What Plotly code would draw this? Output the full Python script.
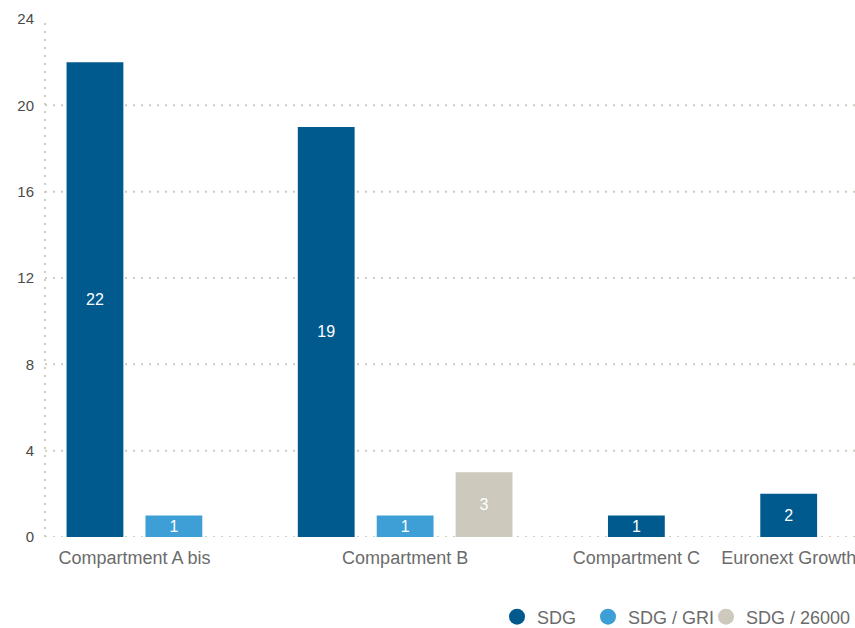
import plotly.graph_objects as go

# ---- data ----
categories = ["Compartment A bis", "Compartment B", "Compartment C", "Euronext Growth"]
series_names = ["SDG", "SDG / GRI", "SDG / 26000"]
sdg = [22, 19, 1, 2]
sdg_gri = [1, 1, None, None]
sdg_26000 = [None, 3, None, None]
y_ticks = [0, 4, 8, 12, 16, 20, 24]
grid_vals = [0, 4, 8, 12, 16, 20]

colors = ["#005a8e", "#3d9fd6", "#cdc9bd"]
grid_color = "#cfccc2"
FONT = "Liberation Sans"
legend_left_px = [497, 588, 706]  # legend entry placement (layout)

# ---- layout of bar slots (only non-empty series get a slot) ----
GROUP_GAP = 0.93
all_series = [sdg, sdg_gri, sdg_26000]
positions = {i: ([], []) for i in range(len(all_series))}
tick_pos = []
pos = 0.0
for ci, cat in enumerate(categories):
    group = []
    for si, s in enumerate(all_series):
        v = s[ci]
        if v is not None:
            positions[si][0].append(pos)
            positions[si][1].append(v)
            group.append(pos)
            pos += 1
    tick_pos.append(sum(group) / len(group))
    pos += GROUP_GAP

legend_keys = ["legend", "legend2", "legend3"]

fig = go.Figure()
for si, name in enumerate(series_names):
    xs, ys = positions[si]
    fig.add_trace(go.Bar(
        x=xs, y=ys, name=name, width=0.72,
        marker=dict(color=colors[si], line=dict(width=0)),
        text=[str(v) for v in ys], textposition="inside", textangle=0,
        insidetextanchor="middle", constraintext="none",
        textfont=dict(color="white", size=16, family=FONT),
        showlegend=False, hoverinfo="skip",
    ))
    # legend entries with circle symbols
    fig.add_trace(go.Scatter(
        x=[None], y=[None], mode="markers", name=name,
        legend=legend_keys[si],
        marker=dict(symbol="circle", size=17, color=colors[si]),
        showlegend=True,
    ))

shapes = []
for g in grid_vals:
    shapes.append(dict(type="line", xref="paper", yref="y", x0=0, x1=1, y0=g, y1=g,
                       line=dict(color=grid_color, width=2, dash="2px,6px"), layer="below"))
shapes.append(dict(type="line", xref="paper", yref="y", x0=0, x1=0, y0=0, y1=y_ticks[-1],
                   line=dict(color=grid_color, width=2, dash="2px,6px"), layer="below"))

W, H = 855, 628
legend_layout = {}
for si, key in enumerate(legend_keys):
    legend_layout[key] = dict(
        orientation="h", xref="container", yref="container",
        x=legend_left_px[si] / W, xanchor="left", y=1 - 617 / H, yanchor="middle",
        font=dict(size=18, color="#6b6b6b", family=FONT),
        bgcolor="rgba(0,0,0,0)", itemclick=False,
    )

fig.update_layout(
    width=W, height=H,
    margin=dict(l=45, r=0, t=19, b=91),
    plot_bgcolor="white", paper_bgcolor="white",
    barmode="overlay",
    font=dict(family=FONT),
    shapes=shapes,
    xaxis=dict(
        range=[-0.633, 9.63], tickmode="array", tickvals=tick_pos, ticktext=categories,
        showgrid=False, zeroline=False, showline=False, ticks="",
        tickfont=dict(size=18, color="#6b6b6b", family=FONT),
        ticklabelstandoff=8, ticklabeloverflow="allow",
    ),
    yaxis=dict(
        range=[0, 24], tickmode="array", tickvals=y_ticks,
        showgrid=False, zeroline=False, showline=False, ticks="",
        tickfont=dict(size=15, color="#4a4a4a", family=FONT),
        ticklabelstandoff=10,
    ),
    **legend_layout,
)

fig.write_html("out.html")
